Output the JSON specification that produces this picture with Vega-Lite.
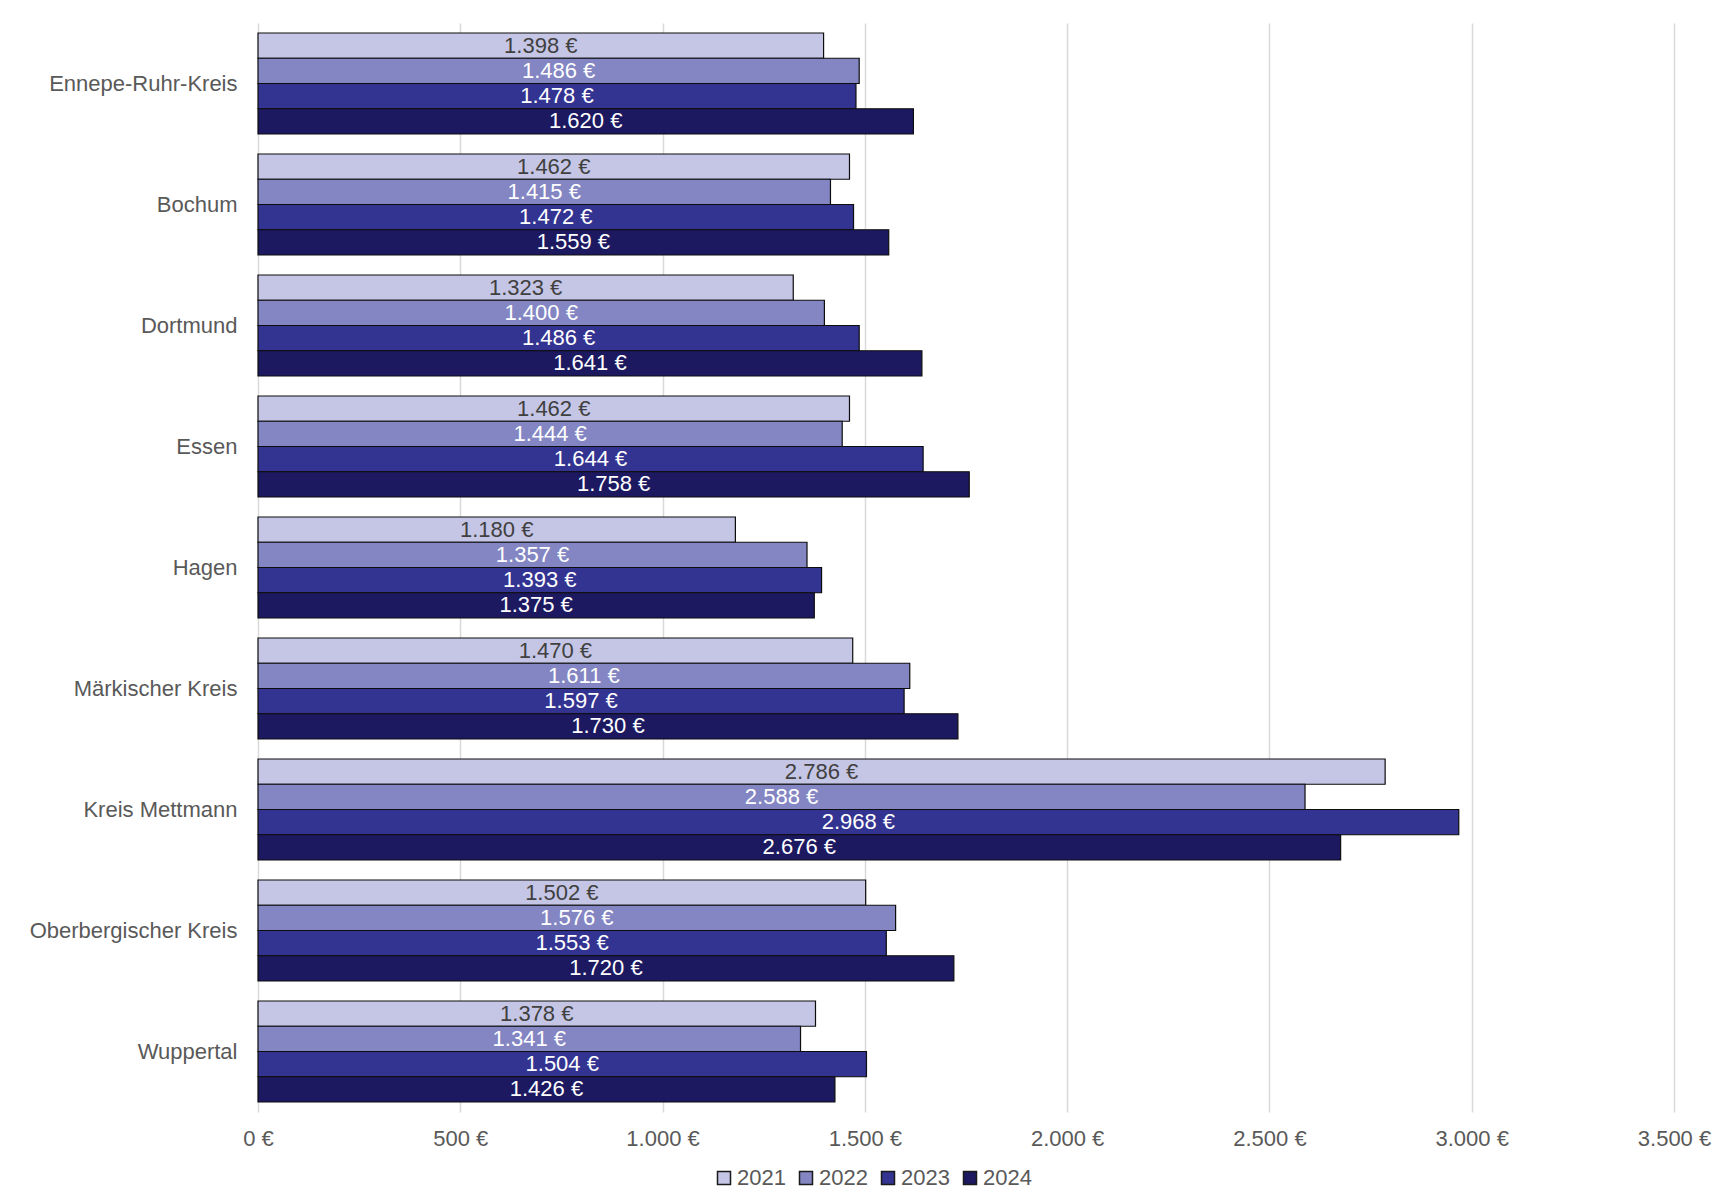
{
  "$schema": "https://vega.github.io/schema/vega-lite/v6.json",
  "autosize": {"type": "none"},
  "width": 1416,
  "height": 1089,
  "padding": {"left": 258, "top": 23, "right": 43, "bottom": 80},
  "background": "white",
  "config": {
    "view": {"stroke": null},
    "font": "Liberation Sans",
    "locale": {
      "number": {"decimal": ",", "thousands": ".", "grouping": [3], "currency": ["", " €"]}
    }
  },
  "data": {
    "values": [
      {"city": "Ennepe-Ruhr-Kreis", "year": "2021", "value": 1398},
      {"city": "Ennepe-Ruhr-Kreis", "year": "2022", "value": 1486},
      {"city": "Ennepe-Ruhr-Kreis", "year": "2023", "value": 1478},
      {"city": "Ennepe-Ruhr-Kreis", "year": "2024", "value": 1620},
      {"city": "Bochum", "year": "2021", "value": 1462},
      {"city": "Bochum", "year": "2022", "value": 1415},
      {"city": "Bochum", "year": "2023", "value": 1472},
      {"city": "Bochum", "year": "2024", "value": 1559},
      {"city": "Dortmund", "year": "2021", "value": 1323},
      {"city": "Dortmund", "year": "2022", "value": 1400},
      {"city": "Dortmund", "year": "2023", "value": 1486},
      {"city": "Dortmund", "year": "2024", "value": 1641},
      {"city": "Essen", "year": "2021", "value": 1462},
      {"city": "Essen", "year": "2022", "value": 1444},
      {"city": "Essen", "year": "2023", "value": 1644},
      {"city": "Essen", "year": "2024", "value": 1758},
      {"city": "Hagen", "year": "2021", "value": 1180},
      {"city": "Hagen", "year": "2022", "value": 1357},
      {"city": "Hagen", "year": "2023", "value": 1393},
      {"city": "Hagen", "year": "2024", "value": 1375},
      {"city": "Märkischer Kreis", "year": "2021", "value": 1470},
      {"city": "Märkischer Kreis", "year": "2022", "value": 1611},
      {"city": "Märkischer Kreis", "year": "2023", "value": 1597},
      {"city": "Märkischer Kreis", "year": "2024", "value": 1730},
      {"city": "Kreis Mettmann", "year": "2021", "value": 2786},
      {"city": "Kreis Mettmann", "year": "2022", "value": 2588},
      {"city": "Kreis Mettmann", "year": "2023", "value": 2968},
      {"city": "Kreis Mettmann", "year": "2024", "value": 2676},
      {"city": "Oberbergischer Kreis", "year": "2021", "value": 1502},
      {"city": "Oberbergischer Kreis", "year": "2022", "value": 1576},
      {"city": "Oberbergischer Kreis", "year": "2023", "value": 1553},
      {"city": "Oberbergischer Kreis", "year": "2024", "value": 1720},
      {"city": "Wuppertal", "year": "2021", "value": 1378},
      {"city": "Wuppertal", "year": "2022", "value": 1341},
      {"city": "Wuppertal", "year": "2023", "value": 1504},
      {"city": "Wuppertal", "year": "2024", "value": 1426}
    ]
  },
  "encoding": {
    "y": {
      "field": "city",
      "type": "nominal",
      "sort": null,
      "title": null,
      "scale": {"paddingInner": 0.165, "paddingOuter": 0.0825},
      "axis": {
        "domain": false,
        "ticks": false,
        "labelFontSize": 22,
        "labelColor": "#595959",
        "labelPadding": 21,
        "labelLimit": 0
      }
    },
    "yOffset": {
      "field": "year",
      "type": "nominal",
      "sort": ["2021", "2022", "2023", "2024"],
      "scale": {"paddingInner": 0, "paddingOuter": 0}
    }
  },
  "layer": [
    {
      "mark": {"type": "bar", "stroke": "#0d0d0d", "strokeWidth": 1.2},
      "encoding": {
        "x": {
          "field": "value",
          "type": "quantitative",
          "title": null,
          "scale": {"domain": [0, 3500]},
          "axis": {
            "values": [0, 500, 1000, 1500, 2000, 2500, 3000, 3500],
            "format": "$,.0f",
            "domain": false,
            "ticks": false,
            "grid": true,
            "gridColor": "#d9d9d9",
            "gridWidth": 1.5,
            "labelFontSize": 22,
            "labelColor": "#595959",
            "labelPadding": 16,
            "labelFlush": false
          }
        },
        "color": {
          "field": "year",
          "type": "nominal",
          "scale": {
            "domain": ["2021", "2022", "2023", "2024"],
            "range": ["#c5c6e5", "#8386c2", "#333391", "#1c1961"]
          },
          "legend": {
            "title": null,
            "orient": "none",
            "direction": "horizontal",
            "legendX": 455,
            "legendY": 1144,
            "symbolType": "square",
            "symbolSize": 169,
            "symbolStrokeColor": "#1a1a1a",
            "symbolStrokeWidth": 1.5,
            "symbolOpacity": 1,
            "labelFontSize": 22,
            "labelColor": "#595959",
            "labelOffset": 2,
            "columnPadding": 9
          }
        }
      }
    },
    {
      "mark": {"type": "text", "fontSize": 22, "align": "center", "baseline": "middle"},
      "encoding": {
        "x": {
          "field": "value",
          "type": "quantitative",
          "scale": {"domain": [0, 7000]},
          "axis": null
        },
        "text": {"field": "value", "type": "quantitative", "format": "$,.0f"},
        "color": {
          "condition": {"test": "datum.year === '2021'", "value": "#404040"},
          "value": "#ffffff"
        }
      }
    }
  ],
  "resolve": {"scale": {"x": "independent"}}
}
